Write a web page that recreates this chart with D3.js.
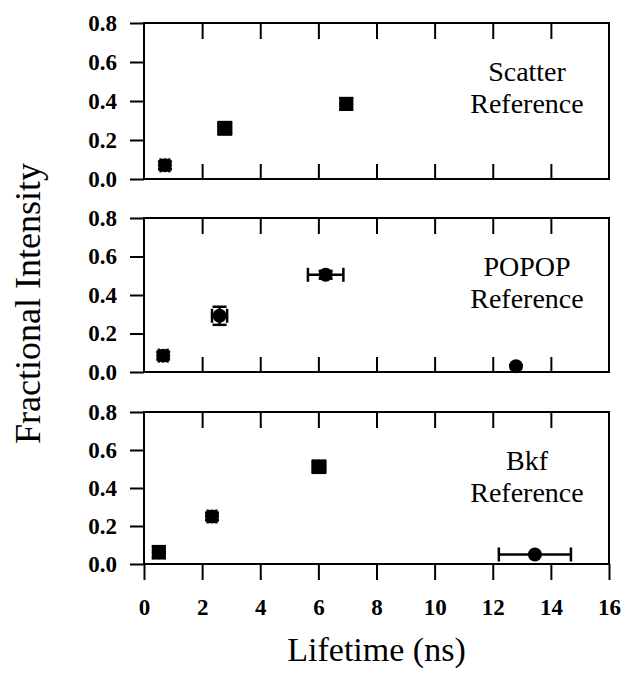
<!DOCTYPE html>
<html>
<head>
<meta charset="utf-8">
<script src="https://cdn.jsdelivr.net/npm/d3@7"></script>
<style>
  html, body { margin: 0; padding: 0; background: #fff; }
  svg { display: block; }
</style>
</head>
<body>
<svg id="chart" width="626" height="678"></svg>
<script>
// Lifetime ticks (ns) and fractional-intensity ticks
const lifetimeTicks = [0, 2, 4, 6, 8, 10, 12, 14, 16];
const fractionTicks = [0.0, 0.2, 0.4, 0.6, 0.8];

// Scatter reference
const scatterLifetime     = [0.72, 2.78, 6.96];
const scatterFraction     = [0.07, 0.26, 0.385];
const scatterLifetimeErr  = [0.15, 0.22, 0.2];
const scatterFractionErr  = [0.02, 0.032, 0.03];

// POPOP reference
const popopLifetime       = [0.66, 2.6, 6.25, 12.8];
const popopFraction       = [0.085, 0.292, 0.505, 0.03];
const popopLifetimeErr    = [0.15, 0.26, 0.61, 0];
const popopFractionErr    = [0.02, 0.047, 0.02, 0];

// Bkf reference
const bkfLifetime         = [0.51, 2.34, 6.02, 13.45];
const bkfFraction         = [0.062, 0.25, 0.512, 0.05];
const bkfLifetimeErr      = [0.2, 0.15, 0.22, 1.24];
const bkfFractionErr      = [0.032, 0.02, 0.032, 0];

const panelNames = [["Scatter", "Reference"], ["POPOP", "Reference"], ["Bkf", "Reference"]];

const panels = [
  { name: panelNames[0], lt: scatterLifetime, fr: scatterFraction, ltErr: scatterLifetimeErr, frErr: scatterFractionErr, top: 23,  bottom: 179 },
  { name: panelNames[1], lt: popopLifetime,   fr: popopFraction,   ltErr: popopLifetimeErr,   frErr: popopFractionErr,   top: 218, bottom: 372 },
  { name: panelNames[2], lt: bkfLifetime,     fr: bkfFraction,     ltErr: bkfLifetimeErr,     frErr: bkfFractionErr,     top: 412, bottom: 564 }
];

const serif = "'Liberation Serif', 'Times New Roman', Times, serif";
const svg = d3.select("#chart").attr("font-family", serif);
const left = 144, right = 609;
const x = d3.scaleLinear().domain([0, 16]).range([left, right]);
const capHalf = 7;
const tickFont = 23;

function styleTicks(sel) {
  sel.attr("font-family", serif);
  sel.select(".domain").remove();
  sel.selectAll("line").attr("stroke", "#000").attr("stroke-width", 2);
  sel.selectAll("text")
    .attr("font-size", tickFont).attr("font-weight", "bold")
    .attr("font-family", serif).attr("fill", "#000");
}

panels.forEach((p, i) => {
  const y = d3.scaleLinear().domain([0, 0.8]).range([p.bottom, p.top]);
  const g = svg.append("g");
  const isLast = i === panels.length - 1;

  // Left axis with outward ticks
  g.append("g")
    .attr("transform", `translate(${left},0)`)
    .call(d3.axisLeft(y).tickValues(fractionTicks).tickSize(14).tickPadding(13).tickFormat(d3.format(".1f")))
    .call(styleTicks);

  // Top edge: inward ticks
  g.append("g")
    .attr("transform", `translate(0,${p.top})`)
    .call(d3.axisBottom(x).tickValues(lifetimeTicks.slice(1, -1)).tickSize(16).tickFormat(""))
    .call(styleTicks);

  if (!isLast) {
    // Bottom edge: inward ticks
    g.append("g")
      .attr("transform", `translate(0,${p.bottom})`)
      .call(d3.axisTop(x).tickValues(lifetimeTicks.slice(1, -1)).tickSize(15).tickFormat(""))
      .call(styleTicks);
  } else {
    // Bottom edge of last panel: outward ticks with labels
    g.append("g")
      .attr("transform", `translate(0,${p.bottom})`)
      .call(d3.axisBottom(x).tickValues(lifetimeTicks).tickSize(16).tickPadding(19).tickFormat(d3.format("d")))
      .call(styleTicks);
  }

  // Frame
  g.append("rect")
    .attr("x", left).attr("y", p.top)
    .attr("width", right - left).attr("height", p.bottom - p.top)
    .attr("fill", "none").attr("stroke", "#000").attr("stroke-width", 2);

  // Panel label
  const label = g.append("text")
    .attr("text-anchor", "middle")
    .attr("font-family", serif)
    .attr("font-size", 28);
  label.append("tspan").attr("x", 527).attr("y", p.top + 58).text(p.name[0]);
  label.append("tspan").attr("x", 527).attr("y", p.top + 90).text(p.name[1]);

  // Error bars and points
  const pts = p.lt.map((v, k) => ({ lt: v, fr: p.fr[k], ltErr: p.ltErr[k], frErr: p.frErr[k] }));
  const marks = g.append("g").selectAll("g").data(pts).join("g");

  marks.filter(d => d.ltErr > 0).each(function(d) {
    const m = d3.select(this);
    const x0 = x(d.lt - d.ltErr), x1 = x(d.lt + d.ltErr), cy = y(d.fr);
    m.append("line").attr("x1", x0).attr("x2", x1).attr("y1", cy).attr("y2", cy);
    m.append("line").attr("x1", x0).attr("x2", x0).attr("y1", cy - capHalf).attr("y2", cy + capHalf);
    m.append("line").attr("x1", x1).attr("x2", x1).attr("y1", cy - capHalf).attr("y2", cy + capHalf);
  });
  marks.filter(d => d.frErr > 0).each(function(d) {
    const m = d3.select(this);
    const y0 = y(d.fr - d.frErr), y1 = y(d.fr + d.frErr), cx = x(d.lt);
    m.append("line").attr("x1", cx).attr("x2", cx).attr("y1", y0).attr("y2", y1);
    m.append("line").attr("x1", cx - capHalf).attr("x2", cx + capHalf).attr("y1", y0).attr("y2", y0);
    m.append("line").attr("x1", cx - capHalf).attr("x2", cx + capHalf).attr("y1", y1).attr("y2", y1);
  });
  marks.selectAll("line").attr("stroke", "#000").attr("stroke-width", 2.5);

  marks.append("circle")
    .attr("cx", d => x(d.lt)).attr("cy", d => y(d.fr))
    .attr("r", 7).attr("fill", "#000");
});

// Axis titles
svg.append("text")
  .attr("x", (left + right) / 2).attr("y", 661)
  .attr("text-anchor", "middle").attr("font-size", 34)
  .attr("font-family", serif)
  .text("Lifetime (ns)");

svg.append("text")
  .attr("transform", `translate(40,${(23 + 564) / 2 + 10}) rotate(-90)`)
  .attr("text-anchor", "middle").attr("font-size", 36)
  .attr("font-family", serif)
  .text("Fractional Intensity");
</script>
</body>
</html>
